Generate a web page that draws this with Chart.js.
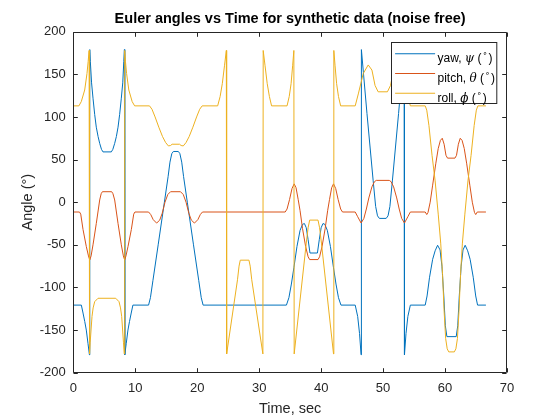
<!DOCTYPE html>
<html><head><meta charset="utf-8">
<script src="https://cdn.jsdelivr.net/npm/chart.js@4/dist/chart.umd.min.js"></script>
<style>html,body{margin:0;padding:0;background:#fff;}canvas{display:block;}</style>
</head><body>
<canvas id="c" width="560" height="420"></canvas>
<script>
// ---- data ----
const yawT = [0,1.3,1.57,1.85,2.1,2.37,2.6,2.66,2.75,2.95,3.18,3.45,3.71,4.0,4.26,4.55,4.79,6.14,6.38,6.68,6.95,7.22,7.48,7.75,7.98,8.15,8.25,8.31,8.55,8.82,9.07,9.35,9.62,
  12.15,12.45,12.85,13.7,14.7,15.3,15.6,15.9,16.15,16.95,17.2,17.5,17.8,18.4,19.4,20.25,20.65,20.95,
  34.4,34.8,35.2,35.6,36.1,36.6,37.0,37.3,37.6,37.9,38.2,39.4,39.7,40.0,40.3,40.6,41.0,41.5,42.0,42.4,42.8,43.2,
  45.5,45.9,46.2,46.45,46.5,47.4,48.4,48.8,49.1,49.4,50.5,50.8,51.1,51.5,52.5,53.4,53.45,53.7,54.0,54.4,
  56.8,57.1,57.5,58.0,58.4,58.8,59.2,59.5,59.8,60.05,60.3,61.8,62.05,62.3,62.6,62.9,63.25,63.65,64.05,64.55,64.95,65.25,66.6];
const yawV = [-120.7,-120.7,-130,-140,-150,-165.5,-179,179,165,140,122,103,88,77,69,62,59,59,62,69,77,88,103,122,140,165,179,-179,-165.5,-150,-140,-130,-120.7,
  -120.7,-112,-92,-50,0,30,47,57,59.5,59.5,57,47,30,0,-50,-92,-112,-120.7,
  -120.7,-112,-96,-77,-52,-33,-26,-25,-30,-44,-59.6,-59.6,-44,-30,-25,-26,-33,-52,-77,-96,-112,-120.7,
  -120.7,-134,-154,-179,179,104,25,-5,-16,-19,-19,-16,-5,25,104,179,-179,-154,-134,-120.7,
  -120.7,-110,-88,-67,-57,-50.5,-56,-75,-110,-145,-157.7,-157.7,-145,-110,-75,-56,-50.5,-57,-67,-88,-110,-120.7,-120.7];

const pitchT = [0,1.0,1.2,1.57,2.1,2.45,2.66,2.87,3.18,3.71,4.26,4.5,4.7,6.2,6.4,6.68,7.22,7.75,8.08,8.29,8.5,8.83,9.37,9.75,9.95,
  12.15,12.5,12.9,13.45,13.95,14.35,14.8,15.25,15.7,17.3,17.75,18.2,18.65,19.05,19.55,20.1,20.5,20.85,
  34.2,34.5,34.9,35.3,35.65,35.95,36.3,36.6,37.0,37.5,37.9,38.15,39.5,39.75,40.15,40.65,41.05,41.35,41.7,42.0,42.35,42.75,43.15,43.45,
  45.5,45.9,46.45,46.9,47.3,47.7,48.2,48.6,48.9,51.0,51.3,51.7,52.2,52.6,53.0,53.45,54.0,54.4,
  56.8,57.05,57.25,57.6,58.0,58.5,58.9,59.25,59.55,59.85,60.15,60.4,61.6,61.85,62.15,62.45,62.75,63.1,63.5,64.0,64.4,64.75,64.95,65.2,66.6];
const pitchV = [-11.5,-11.5,-14,-32,-52,-63,-67.8,-63,-50,-25,2.6,10,12.3,12.3,10,2.6,-25,-50,-63,-67.8,-63,-52,-32,-14,-11.5,
  -11.5,-14.5,-20.5,-24.5,-21,-13,0,9,12.3,12.3,9,0,-13,-21,-24.5,-20.5,-14.5,-11.5,
  -11.5,-8,3,16,21.5,17,3,-10,-31,-52,-64,-67.3,-67.3,-64,-52,-31,-10,3,17,21.5,16,3,-8,-11.5,
  -11.5,-17,-24.4,-19,-8,5,18,24,25.6,25.6,24,18,5,-8,-19,-24.4,-17,-11.5,
  -11.5,-14.5,-12,0,20,45,63,72.5,75,68,55,51.7,51.7,55,68,75,72.5,63,45,20,0,-12,-14.5,-11.5,-11.5];

const rollT = [0,0.9,1.29,1.84,2.21,2.4,2.55,2.62,2.72,3.02,3.2,3.45,3.99,6.85,7.38,7.62,7.81,8.1,8.22,8.29,8.42,8.6,8.96,9.5,9.9,
  12.3,12.7,13.2,13.8,14.4,14.9,15.35,15.7,15.95,17.15,17.4,17.75,18.2,18.7,19.3,19.9,20.4,20.8,
  23.3,23.7,24.05,24.4,24.7,24.75,26.5,26.75,26.95,28.35,28.55,28.8,30.6,30.65,30.95,31.3,31.65,32.0,
  34.5,34.85,35.15,35.4,35.6,35.65,37.6,37.9,38.15,39.5,39.75,40.05,42.0,42.05,42.25,42.5,42.8,43.15,
  45.5,46.0,46.8,47.6,48.2,48.7,49.2,50.7,51.2,51.7,52.3,53.1,53.9,54.4,
  56.8,57.05,57.4,57.9,58.4,58.9,59.3,59.6,59.85,60.1,60.35,60.6,61.5,61.75,62.0,62.25,62.5,62.8,63.2,63.7,64.2,64.7,65.05,65.3,66.6];
const rollV = [113,113,118,131.6,151,165,178,-178,-165,-134,-124,-116.7,-112.7,-112.7,-116.7,-124,-134,-165,-178,178,165,151,131.6,118,113,
  113,109,100,88,77,70,66,66.5,68,68,66.5,66,70,77,88,100,109,113,
  113,124,139,160,178,-178,-91,-75,-68,-68,-75,-91,-178,178,160,139,124,113,
  113,124,139,160,178,-178,-48,-30,-21,-21,-30,-48,-178,178,160,139,124,113,
  113,127,151,161,155,137,129.5,129.5,137,155,161,151,127,113,
  113,108,90,55,25,-14,-48,-85,-128,-160,-172,-175.6,-175.6,-172,-160,-128,-85,-48,-14,25,55,90,108,113,113];

const seriesNames = ['yaw', 'pitch', 'roll'];
const seriesGreek = ['\u03C8', '\u03B8', '\u03D5'];
const seriesColors = ['#0072BD', '#D95319', '#EDB120'];
const xTickValues = [0, 10, 20, 30, 40, 50, 60, 70];
const yTickValues = [-200, -150, -100, -50, 0, 50, 100, 150, 200];
const titleText = 'Euler angles vs Time for synthetic data (noise free)';
const xLabel = 'Time, sec';
const yLabel = 'Angle (\u00B0)';

function pts(ts, vs) { return ts.map((t, i) => ({ x: t, y: vs[i] })); }

const AXC = '#262626';
const FONT = '"Liberation Sans", Arial, Helvetica, sans-serif';

const framePlugin = {
  id: 'matlabFrame',
  afterLayout(chart) {
    // centre the title over the axes, as MATLAB does
    const tb = chart.titleBlock, a = chart.chartArea;
    if (tb && a) { tb.left = a.left; tb.right = a.right; tb.width = a.right - a.left; }
  },
  afterDatasetsDraw(chart) {
    const ctx = chart.ctx, a = chart.chartArea;
    const xs = chart.scales.x, ys = chart.scales.y;
    const L = Math.round(a.left) + 0.5, R = Math.round(a.right) - 0.5;
    const T = Math.round(a.top) + 0.5, B = Math.round(a.bottom) - 0.5;
    const tl = 4.3;
    ctx.save();
    ctx.strokeStyle = AXC; ctx.lineWidth = 1;
    ctx.beginPath();
    ctx.rect(L, T, R - L, B - T);
    xTickValues.forEach(v => {
      const p = Math.round(xs.getPixelForValue(v)) + 0.5;
      ctx.moveTo(p, B); ctx.lineTo(p, B - tl);
      ctx.moveTo(p, T); ctx.lineTo(p, T + tl);
    });
    yTickValues.forEach(v => {
      const p = Math.round(ys.getPixelForValue(v)) + 0.5;
      ctx.moveTo(L, p); ctx.lineTo(L + tl, p);
      ctx.moveTo(R, p); ctx.lineTo(R - tl, p);
    });
    ctx.stroke();

    // legend box (MATLAB 'northeast')
    const bw = 105.3, bh = 61;
    const bx = Math.round(a.right - 11 - bw) + 0.5, by = Math.round(a.top + 10.6) + 0.5;
    ctx.fillStyle = '#fff';
    ctx.fillRect(bx, by, bw, bh);
    ctx.strokeStyle = AXC;
    ctx.strokeRect(bx, by, bw, bh);
    const rowY = [11.2, 31, 50.8];
    chart.data.datasets.forEach((ds, i) => {
      const y = by + rowY[i];
      ctx.strokeStyle = ds.borderColor; ctx.lineWidth = 1.1;
      ctx.beginPath(); ctx.moveTo(bx + 3.6, y); ctx.lineTo(bx + 43.6, y); ctx.stroke();
      let x = bx + 46;
      const base = y + 8.4;
      ctx.fillStyle = '#000';
      ctx.textBaseline = 'alphabetic'; ctx.textAlign = 'left';
      ctx.font = '12px ' + FONT;
      const p1 = seriesNames[i] + ', ';
      ctx.fillText(p1, x, base); x += ctx.measureText(p1).width;
      ctx.font = 'italic 12px "DejaVu Serif", "Liberation Serif", serif';
      ctx.fillText(seriesGreek[i], x, base); x += ctx.measureText(seriesGreek[i]).width;
      ctx.font = '12px ' + FONT;
      ctx.fillText(' (', x, base); x += ctx.measureText(' (').width + 1;
      ctx.font = '8px "DejaVu Sans", ' + FONT;
      ctx.fillText('\u2218', x, base - 6); x += ctx.measureText('\u2218').width + 1;
      ctx.font = '12px ' + FONT;
      ctx.fillText(')', x, base);
    });
    ctx.restore();
  }
};

new Chart(document.getElementById('c'), {
  type: 'line',
  data: {
    datasets: [
      { label: 'yaw', data: pts(yawT, yawV), borderColor: seriesColors[0], order: 3 },
      { label: 'pitch', data: pts(pitchT, pitchV), borderColor: seriesColors[1], order: 2 },
      { label: 'roll', data: pts(rollT, rollV), borderColor: seriesColors[2], order: 1 }
    ]
  },
  options: {
    responsive: false,
    animation: false,
    devicePixelRatio: 1,
    layout: { padding: { left: 0, right: 53, top: 0, bottom: 0 } },
    elements: {
      line: { borderWidth: 1, tension: 0, fill: false },
      point: { radius: 0, hoverRadius: 0 }
    },
    plugins: {
      legend: { display: false },
      tooltip: { enabled: false },
      title: {
        display: true, text: titleText, color: '#000',
        font: { family: FONT, size: 14.5, weight: 'bold', lineHeight: 1.2 },
        padding: { top: 9.9, bottom: 4.4 }
      }
    },
    scales: {
      x: {
        type: 'linear', min: 0, max: 70,
        afterBuildTicks: s => { s.ticks = xTickValues.map(v => ({ value: v })); },
        afterFit: s => { s.height = 47.3; },
        grid: { display: false, drawTicks: false },
        border: { display: false },
        ticks: { color: AXC, font: { family: FONT, size: 13 }, padding: 7.5, maxRotation: 0 },
        title: { display: true, text: xLabel, color: AXC, font: { family: FONT, size: 14.5, lineHeight: 1.2 }, padding: { top: 0, bottom: 2 } }
      },
      y: {
        type: 'linear', min: -200, max: 200,
        afterBuildTicks: s => { s.ticks = yTickValues.map(v => ({ value: v })); },
        afterFit: s => { s.width = 73.3; },
        grid: { display: false, drawTicks: false },
        border: { display: false },
        ticks: { color: AXC, font: { family: FONT, size: 13 }, padding: 7.5 },
        title: { display: true, text: yLabel, color: AXC, font: { family: FONT, size: 14.5, lineHeight: 1.2 }, padding: { top: 19.3, bottom: 0 } }
      }
    }
  },
  plugins: [framePlugin]
});
</script>
</body></html>
